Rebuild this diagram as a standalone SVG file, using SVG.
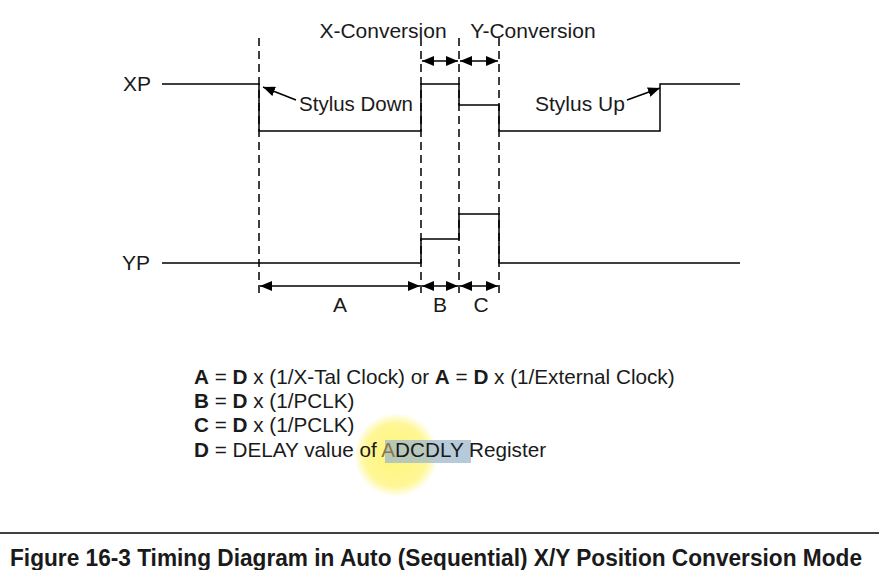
<svg xmlns="http://www.w3.org/2000/svg" width="879" height="570" viewBox="0 0 879 570">
<defs>
<marker id="ah" viewBox="0 0 12 10" refX="12" refY="5" markerWidth="12" markerHeight="10" markerUnits="userSpaceOnUse" orient="auto-start-reverse">
<path d="M0,0 L12,5 L0,10 Z" fill="#000"/>
</marker>
<radialGradient id="glow" cx="0.5" cy="0.5" r="0.5">
<stop offset="0" stop-color="#fff36a" stop-opacity="0.9"/>
<stop offset="0.75" stop-color="#fff36a" stop-opacity="0.7"/>
<stop offset="1" stop-color="#fff36a" stop-opacity="0"/>
</radialGradient>
</defs>
<style>
text{font-family:"Liberation Sans",Arial,sans-serif;fill:#1a1a1a}
.lbl{font-size:21px}
.leg{font-size:20.7px}
.b{font-weight:bold}
.sig{fill:none;stroke:#000;stroke-width:1.5}
.dash{fill:none;stroke:#000;stroke-width:1.5;stroke-dasharray:8 5}
.dim{fill:none;stroke:#000;stroke-width:1.5;marker-start:url(#ah);marker-end:url(#ah)}
.call{fill:none;stroke:#000;stroke-width:1.5;marker-end:url(#ah)}
</style>
<rect width="879" height="570" fill="#fff"/>

<g id="labels">
<text class="lbl" x="383" y="38" text-anchor="middle">X-Conversion</text>
<text class="lbl" x="533" y="38" text-anchor="middle">Y-Conversion</text>
<text class="lbl" x="137" y="91" text-anchor="middle">XP</text>
<text class="lbl" x="136" y="270" text-anchor="middle">YP</text>
<text class="lbl" x="299" y="111" textLength="114" lengthAdjust="spacingAndGlyphs">Stylus Down</text>
<text class="lbl" x="535" y="111">Stylus Up</text>
<text class="lbl" x="340" y="312" text-anchor="middle">A</text>
<text class="lbl" x="440" y="312" text-anchor="middle">B</text>
<text class="lbl" x="481" y="312" text-anchor="middle">C</text>
</g>

<g id="connectors">
<line class="dash" x1="259" y1="38" x2="259" y2="296"/>
<line class="dash" x1="421" y1="38" x2="421" y2="296"/>
<line class="dash" x1="459" y1="38" x2="459" y2="296"/>
<line class="dash" x1="499" y1="38" x2="499" y2="296"/>
<polyline id="xp" class="sig" points="162,84 259,84 259,131 421,131 421,84 459,84 459,105 499,105 499,131 660,131 660,84 740,84"/>
<polyline id="yp" class="sig" points="162,263 421,263 421,239 459,239 459,214 499,214 499,263 740,263"/>
<line class="dim" x1="422" y1="61" x2="458" y2="61"/>
<line class="dim" x1="460" y1="61" x2="498" y2="61"/>
<line class="dim" x1="260" y1="286" x2="420" y2="286"/>
<line class="dim" x1="422" y1="286" x2="458" y2="286"/>
<line class="dim" x1="460" y1="286" x2="498" y2="286"/>
<line class="call" x1="296" y1="100" x2="263" y2="87"/>
<line class="call" x1="627" y1="100" x2="660" y2="88"/>
</g>

<g id="highlight">
<circle cx="396" cy="455" r="42" fill="url(#glow)"/>
<rect x="385" y="440" width="86" height="23" fill="#9fb8cc" opacity="0.75"/>
</g>

<g id="legend">
<text class="leg" x="194" y="384"><tspan class="b">A</tspan> = <tspan class="b">D</tspan> x (1/X-Tal Clock) or <tspan class="b">A</tspan> = <tspan class="b">D</tspan> x (1/External Clock)</text>
<text class="leg" x="194" y="408"><tspan class="b">B</tspan> = <tspan class="b">D</tspan> x (1/PCLK)</text>
<text class="leg" x="194" y="432"><tspan class="b">C</tspan> = <tspan class="b">D</tspan> x (1/PCLK)</text>
<text class="leg" x="194" y="457"><tspan class="b">D</tspan> = DELAY value of <tspan fill="#8a7a40">A</tspan>DCDLY Register</text>
</g>

<g id="caption">
<line x1="0" y1="533" x2="879" y2="533" stroke="#000" stroke-width="1.5"/>
<text x="10" y="566" font-size="23" class="b" textLength="852" lengthAdjust="spacingAndGlyphs">Figure 16-3 Timing Diagram in Auto (Sequential) X/Y Position Conversion Mode</text>
</g>
</svg>
